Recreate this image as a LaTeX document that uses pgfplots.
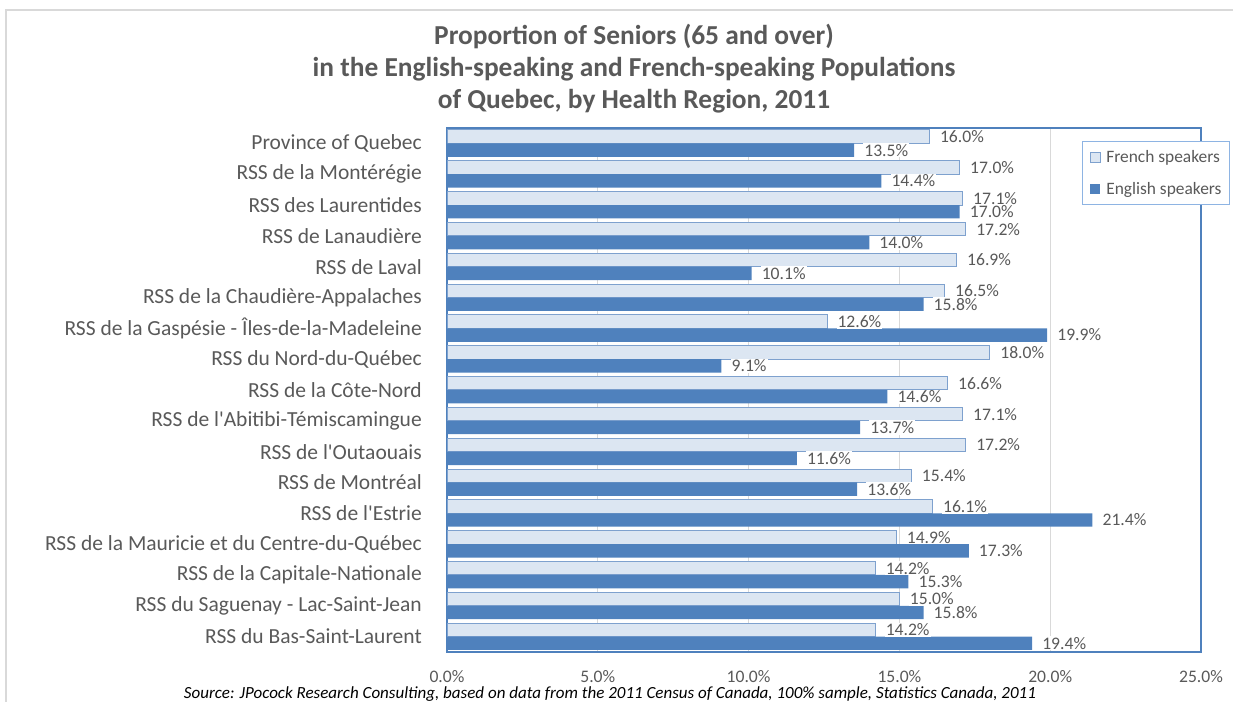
\documentclass[border=0pt]{standalone}
\usepackage{pgfplots}
\pgfplotsset{compat=1.18}
\usepackage{pgfplotstable}
\usepackage{fontspec}
\setmainfont{Carlito}
\definecolor{txt}{HTML}{595959}
\definecolor{engl}{HTML}{4F81BD}
\definecolor{frfill}{HTML}{DCE6F2}
\definecolor{frdraw}{HTML}{7EA1CE}
\definecolor{gridc}{HTML}{D9D9D9}
\definecolor{legd}{HTML}{8EB4E3}

\pgfplotstableread{
idx F E
0 16.0 13.5
1 17.0 14.4
2 17.1 17.0
3 17.2 14.0
4 16.9 10.1
5 16.5 15.8
6 12.6 19.9
7 18.0 9.1
8 16.6 14.6
9 17.1 13.7
10 17.2 11.6
11 15.4 13.6
12 16.1 21.4
13 14.9 17.3
14 14.2 15.3
15 15.0 15.8
16 14.2 19.4
}\datatable

\begin{document}
\begin{tikzpicture}[x=1bp,y=1bp]
\path[use as bounding box] (0,0) rectangle (1233,702);
\draw[gridc, line width=1.5bp] (6,-5) -- (6,692) -- (1240,692);
\node[font=\fontsize{27.4bp}{32bp}\selectfont\bfseries, text=txt, anchor=base] at (634,702-45) {Proportion of Seniors (65 and over)};
\node[font=\fontsize{27.4bp}{32bp}\selectfont\bfseries, text=txt, anchor=base] at (634,702-77) {in the English-speaking and French-speaking Populations};
\node[font=\fontsize{27.4bp}{32bp}\selectfont\bfseries, text=txt, anchor=base] at (634,702-109) {of Quebec, by Health Region, 2011};
\node[font=\fontsize{17bp}{20bp}\selectfont\itshape, text=black, anchor=base] at (610,3) {Source: JPocock Research Consulting, based on data from the 2011 Census of Canada, 100\% sample, Statistics Canada, 2011};
\begin{axis}[
  at={(447bp,50bp)}, anchor=south west,
  scale only axis, width=754bp, height=524bp,
  xmin=0, xmax=25, ymin=-0.5, ymax=16.5,
  y dir=reverse,
  enlargelimits=false,
  axis line style={draw=engl, line width=1.5bp},
  xmajorgrids, grid style={gridc, line width=1bp},
  major tick length=0pt,
  xtick={0,5,10,15,20,25},
  xticklabels={0.0\%,5.0\%,10.0\%,15.0\%,20.0\%,25.0\%},
  xticklabel style={font=\fontsize{17.6bp}{20bp}\selectfont, text=txt, anchor=center, inner sep=0pt, yshift=-25bp},
  ytick={0,...,16},
  yticklabels={Province of Quebec, RSS de la Montérégie, RSS des Laurentides, RSS de Lanaudière, RSS de Laval, RSS de la Chaudière-Appalaches, RSS de la Gaspésie - Îles-de-la-Madeleine, RSS du Nord-du-Québec, RSS de la Côte-Nord, RSS de l\textquotesingle Abitibi-Témiscamingue, RSS de l\textquotesingle Outaouais, RSS de Montréal, RSS de l\textquotesingle Estrie, RSS de la Mauricie et du Centre-du-Québec, RSS de la Capitale-Nationale, RSS du Saguenay - Lac-Saint-Jean, RSS du Bas-Saint-Laurent},
  yticklabel style={font=\fontsize{21.5bp}{24bp}\selectfont, text=txt, anchor=east, inner sep=0pt, xshift=-25bp},
  point meta=x,
  nodes near coords={\pgfmathprintnumber[fixed,fixed zerofill,precision=1,assume math mode=true]{\pgfplotspointmeta}\%},
  nodes near coords align={anchor=west},
  every node near coord/.append style={font=\fontsize{17.6bp}{20bp}\selectfont, text=txt, fill=white, inner sep=1bp, xshift=9bp},
  legend style={at={(1.0385,0.975)}, anchor=north east, draw=legd, line width=1bp, fill=white,
    font=\fontsize{17.4bp}{20bp}\selectfont, text=txt, inner xsep=7bp, inner ysep=8bp, row sep=16bp, column sep=5bp,
    nodes={inner sep=1bp, anchor=west}},
  legend cell align=left,
]
\addplot[xbar, bar width=0.435, bar shift=-0.2175, fill=frfill, draw=frdraw, line width=1bp,
  every node near coord/.append style={yshift=6.7bp},
  legend image code/.code={\draw[fill=frfill, draw=frdraw, line width=0.8bp] (0bp,-5bp) rectangle (10bp,5bp);}]
  table[x=F, y=idx] {\datatable};
\addlegendentry{French speakers}
\addplot[xbar, bar width=0.435, bar shift=0.2175, fill=engl, draw=none,
  every node near coord/.append style={yshift=-6.7bp},
  legend image code/.code={\fill[engl] (0bp,-5bp) rectangle (10bp,5bp);}]
  table[x=E, y=idx] {\datatable};
\addlegendentry{English speakers}
\end{axis}
\end{tikzpicture}
\end{document}
